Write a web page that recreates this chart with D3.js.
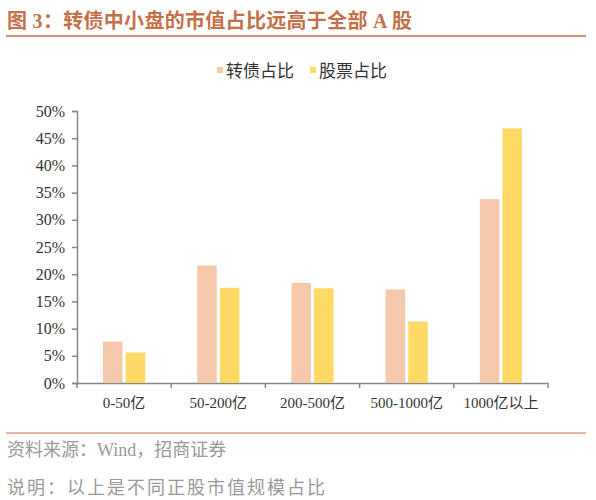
<!DOCTYPE html>
<html>
<head>
<meta charset="utf-8">
<script src="https://cdn.jsdelivr.net/npm/d3@7"></script>
<style>
  body { margin: 0; background: #fff; }
  svg text { font-family: "Liberation Serif", "Noto Sans CJK SC", serif; }
</style>
</head>
<body>
<svg id="chart" width="596" height="500"></svg>
<script>
// données
var categories = ["0-50亿", "50-200亿", "200-500亿", "500-1000亿", "1000亿以上"];
var seriesNames = ["转债占比", "股票占比"];
var bondShare = [7.6, 21.6, 18.4, 17.2, 33.8];
var stockShare = [5.6, 17.5, 17.4, 11.3, 46.8];
var yTicks = [0, 5, 10, 15, 20, 25, 30, 35, 40, 45, 50];
var colors = ["#F6C9AA", "#FFD966"];

var svg = d3.select("#chart");
var accent = "#C4704A";

// titre
svg.append("text")
  .attr("x", 7).attr("y", 28)
  .style("font-size", "20px").style("font-weight", "bold")
  .style("letter-spacing", "0.3px")
  .style("fill", accent)
  .text("图 3：转债中小盘的市值占比远高于全部 A 股");
svg.append("line")
  .attr("x1", 6).attr("x2", 586).attr("y1", 36).attr("y2", 36)
  .style("stroke", accent).style("stroke-width", 1.5);

// échelles
var x0 = d3.scaleBand().domain(categories).range([77, 548]).paddingInner(0).paddingOuter(0);
var x1 = d3.scaleBand().domain([0, 1]).range([26, x0.bandwidth() - 26]).paddingInner(0.14);
var y = d3.scaleLinear().domain([0, 50]).range([383, 111]);

// axe Y
var yAxis = svg.append("g")
  .attr("transform", "translate(77,0)")
  .call(d3.axisLeft(y).tickValues(yTicks).tickSize(5).tickFormat(function(d) { return d + "%"; }));
yAxis.selectAll("text").style("font-size", "16px").style("fill", "#333").attr("dx", "-4");
yAxis.select(".domain").style("stroke", "#888").style("stroke-width", 1.5);
yAxis.selectAll(".tick line").style("stroke", "#888").style("stroke-width", 1.5);

// axe X
var xAxis = svg.append("g")
  .attr("transform", "translate(0,383)")
  .call(d3.axisBottom(x0).tickSize(0).tickSizeOuter(0));
xAxis.select(".domain").style("stroke", "#888").style("stroke-width", 1.5);
xAxis.selectAll("text").style("font-size", "15px").style("fill", "#333").attr("dy", "1.45em");
// petits tirets aux limites des catégories
var bounds = categories.map(function(c) { return x0(c); }).concat([x0.range()[1]]);
svg.append("g").selectAll("line").data(bounds).enter().append("line")
  .attr("x1", function(d) { return d; }).attr("x2", function(d) { return d; })
  .attr("y1", 383).attr("y2", 388)
  .style("stroke", "#888").style("stroke-width", 1.5);

// barres
var series = [bondShare, stockShare];
series.forEach(function(values, s) {
  svg.append("g").selectAll("rect")
    .data(values).enter().append("rect")
    .attr("x", function(d, i) { return x0(categories[i]) + x1(s); })
    .attr("width", x1.bandwidth())
    .attr("y", function(d) { return y(d); })
    .attr("height", function(d) { return y(0) - y(d); })
    .style("fill", colors[s]);
});

// légende
var legendPos = [217, 310];
seriesNames.forEach(function(name, s) {
  svg.append("rect")
    .attr("x", legendPos[s]).attr("y", 67).attr("width", 6).attr("height", 6)
    .style("fill", colors[s]);
  svg.append("text")
    .attr("x", legendPos[s] + 9).attr("y", 77)
    .style("font-size", "17px").style("fill", "#333")
    .text(name);
});

// source
svg.append("line")
  .attr("x1", 6).attr("x2", 586).attr("y1", 433).attr("y2", 433)
  .style("stroke", accent).style("stroke-width", 1);
svg.append("text")
  .attr("x", 7).attr("y", 456)
  .style("font-size", "18px").style("fill", "#999")
  .text("资料来源：Wind，招商证券");
svg.append("text")
  .attr("x", 7).attr("y", 494)
  .style("font-size", "18px").style("fill", "#999")
  .style("letter-spacing", "2px")
  .text("说明：以上是不同正股市值规模占比");
</script>
</body>
</html>
